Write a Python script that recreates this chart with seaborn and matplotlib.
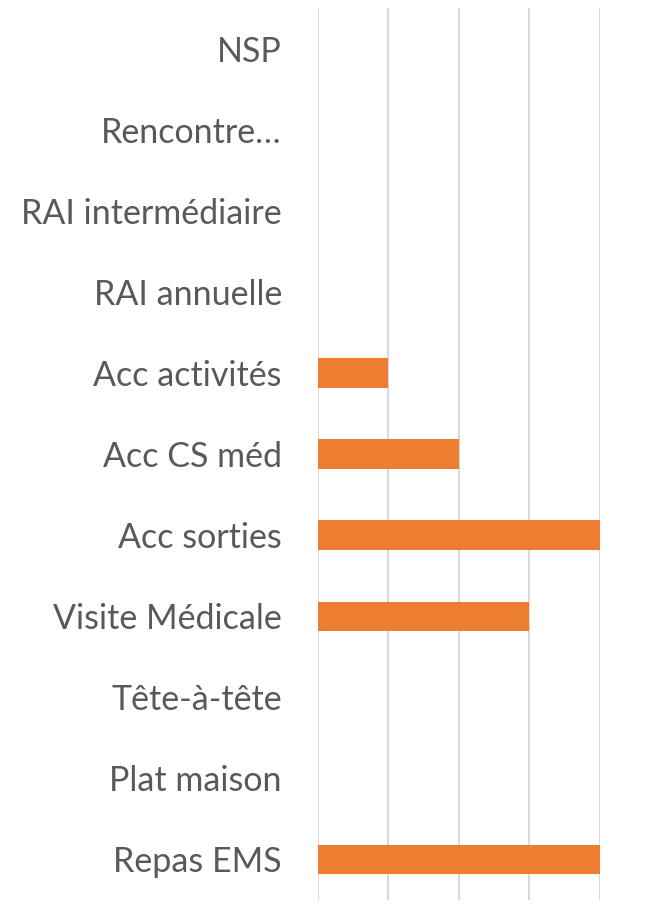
import matplotlib
matplotlib.use("Agg")
import matplotlib.pyplot as plt
import seaborn as sns
import pandas as pd

categories = ["NSP", "Rencontre…", "RAI intermédiaire", "RAI annuelle", "Acc activités",
              "Acc CS méd", "Acc sorties", "Visite Médicale", "Tête-à-tête",
              "Plat maison", "Repas EMS"]
values = [0, 0, 0, 0, 1, 2, 4, 3, 0, 0, 4]

df = pd.DataFrame({"cat": categories, "val": values})

sns.set_theme(style="white")
plt.rcParams['font.family'] = ['Lato', 'DejaVu Sans']

fig = plt.figure(figsize=(6.59, 9.07), dpi=100)
ax = fig.add_axes([318/659, 1 - 900/907, (599.7 - 318)/659, (900 - 8)/907])

sns.barplot(data=df, x="val", y="cat", orient="h", color="#ED7D31",
            width=0.36, saturation=1, linewidth=0, ax=ax, zorder=3)

ax.set_xlim(0, 4)
ax.set_ylim(10.5, -0.5)
ax.set_xticks([0, 1, 2, 3, 4])
ax.xaxis.grid(True, color="#d9d9d9", linewidth=1.5, zorder=0)
ax.set_axisbelow(True)
ax.tick_params(axis="x", length=0, labelbottom=False)
ax.tick_params(axis="y", length=0, pad=26, labelsize=24.5, labelcolor="#595959")
for s in ax.spines.values():
    s.set_visible(False)
ax.set_xlabel("")
ax.set_ylabel("")

fig.savefig("out.png", dpi=100)
